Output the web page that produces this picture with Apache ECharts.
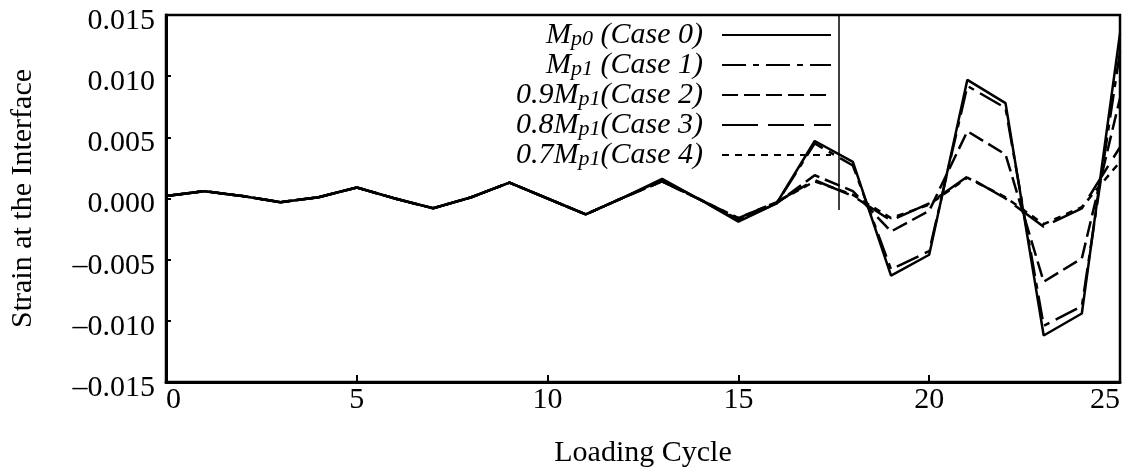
<!DOCTYPE html>
<html>
<head>
<meta charset="utf-8">
<script src="https://cdn.jsdelivr.net/npm/echarts@6/dist/echarts.min.js"></script>
<style>html,body{margin:0;padding:0;background:#fff;}#c{width:1123px;height:473px;}</style>
</head>
<body>
<div id="c"></div>
<script>
var cycles = [0,1,2,3,4,5,6,7,8,9,10,11,12,13,14,15,16,17,18,19,20,21,22,23,24,25];
var case0 = [0.0002,0.0006,0.0002,-0.0003,0.0001,0.0009,0.0000,-0.0008,0.0001,0.0013,0.0000,-0.0013,0.0001,0.0016,-0.0001,-0.0019,-0.0004,0.0047,0.0030,-0.0063,-0.0046,0.0097,0.0078,-0.0112,-0.0094,0.0135];
var case1 = [0.0002,0.0006,0.0002,-0.0003,0.0001,0.0009,0.0000,-0.0008,0.0001,0.0013,0.0000,-0.0013,0.0001,0.0015,-0.0001,-0.0018,-0.0004,0.0045,0.0027,-0.0058,-0.0043,0.0092,0.0074,-0.0104,-0.0088,0.0120];
var case2 = [0.0002,0.0006,0.0002,-0.0003,0.0001,0.0009,0.0000,-0.0008,0.0001,0.0013,0.0000,-0.0013,0.0001,0.0014,-0.0001,-0.0017,-0.0004,0.0019,0.0006,-0.0027,-0.0010,0.0055,0.0036,-0.0068,-0.0049,0.0082];
var case3 = [0.0002,0.0006,0.0002,-0.0003,0.0001,0.0009,0.0000,-0.0008,0.0001,0.0013,0.0000,-0.0013,0.0001,0.0014,-0.0001,-0.0016,-0.0003,0.0015,0.0002,-0.0018,-0.0004,0.0018,0.0000,-0.0023,-0.0008,0.0042];
var case4 = [0.0002,0.0006,0.0002,-0.0003,0.0001,0.0009,0.0000,-0.0008,0.0001,0.0013,0.0000,-0.0013,0.0001,0.0014,-0.0001,-0.0016,-0.0003,0.0014,0.0003,-0.0016,-0.0005,0.0017,0.0001,-0.0021,-0.0007,0.0030];
var seriesNames = ['Case 0','Case 1','Case 2','Case 3','Case 4'];
var legendPrefix = [['M','p0'],['M','p1'],['0.9M','p1'],['0.8M','p1'],['0.7M','p1']];
var xTicks = [0,5,10,15,20,25];
var yTicks = [-0.015,-0.010,-0.005,0.000,0.005,0.010,0.015];

var allData = [case0, case1, case2, case3, case4];
var dashes = ['solid', [24,7,6,7], [16,6], [36,10], [7,6]];

function pairs(vals){ return cycles.map(function(c,i){ return [c, vals[i]]; }); }

var chart = echarts.init(document.getElementById('c'));
var serif = 'Liberation Serif, Times New Roman, serif';
var series = seriesNames.map(function(n, i){
  return {
    name: n, type: 'line', data: pairs(allData[i]),
    symbol: 'none',
    lineStyle: { color: '#000', width: 2.5, type: dashes[i] },
    itemStyle: { color: '#000' },
    z: 5 - i,
    animation: false
  };
});

chart.setOption({
  animation: false,
  grid: { left: 163, right: 3, top: 15, bottom: 88, show: true, borderColor: '#000', borderWidth: 2.5 },
  xAxis: {
    type: 'value', min: 0, max: 25, interval: 5,
    name: 'Loading Cycle', nameLocation: 'middle', nameGap: 56,
    nameTextStyle: { fontFamily: serif, fontSize: 30, color: '#000' },
    axisLine: { onZero: false, lineStyle: { color: '#000', width: 3 } },
    axisTick: { inside: true, length: 7, lineStyle: { color: '#000', width: 2 } },
    axisLabel: { fontFamily: serif, fontSize: 30, color: '#000', margin: 3, alignMinLabel: 'left', alignMaxLabel: 'right' },
    splitLine: { show: false }
  },
  yAxis: {
    type: 'value', min: -0.015, max: 0.015, interval: 0.005,
    name: 'Strain at the Interface', nameLocation: 'middle', nameGap: 128, nameRotate: 90,
    nameTextStyle: { fontFamily: serif, fontSize: 30, color: '#000' },
    axisLine: { show: true, onZero: false, lineStyle: { color: '#000', width: 3 } },
    axisTick: { inside: true, length: 5, lineStyle: { color: '#000', width: 2 } },
    axisLabel: { fontFamily: serif, fontSize: 30, color: '#000', margin: 11, verticalAlign: 'top', lineHeight: 12,
      formatter: function(v){ var s = Math.abs(v).toFixed(3); return (v < -1e-9 ? '\u2013' : '') + s; } },
    splitLine: { show: false }
  },
  legend: {
    orient: 'vertical', right: 286, top: 11, align: 'right',
    itemWidth: 109, itemHeight: 14, itemGap: -4,
    data: seriesNames,
    itemStyle: { opacity: 0 },
    formatter: function(name){
      var i = seriesNames.indexOf(name);
      var p = legendPrefix[i];
      return '{m|' + p[0] + '}{s|' + p[1] + '}{m|' + (i < 2 ? ' ' : '') + '(' + name + ')}';
    },
    textStyle: {
      fontFamily: serif, fontStyle: 'italic', fontSize: 30, color: '#000', padding: [0, 14, 0, 0],
      rich: {
        m: { fontFamily: serif, fontStyle: 'italic', fontSize: 30, color: '#000', lineHeight: 30 },
        s: { fontFamily: serif, fontStyle: 'italic', fontSize: 22, color: '#000', verticalAlign: 'bottom', lineHeight: 18, padding: [12, 0, 0, 0] }
      }
    }
  },
  graphic: [{
    type: 'line', shape: { x1: 839, y1: 15, x2: 839, y2: 210 },
    style: { stroke: '#000', lineWidth: 1.5 }, z: 10
  }],
  series: series
});
</script>
</body>
</html>
